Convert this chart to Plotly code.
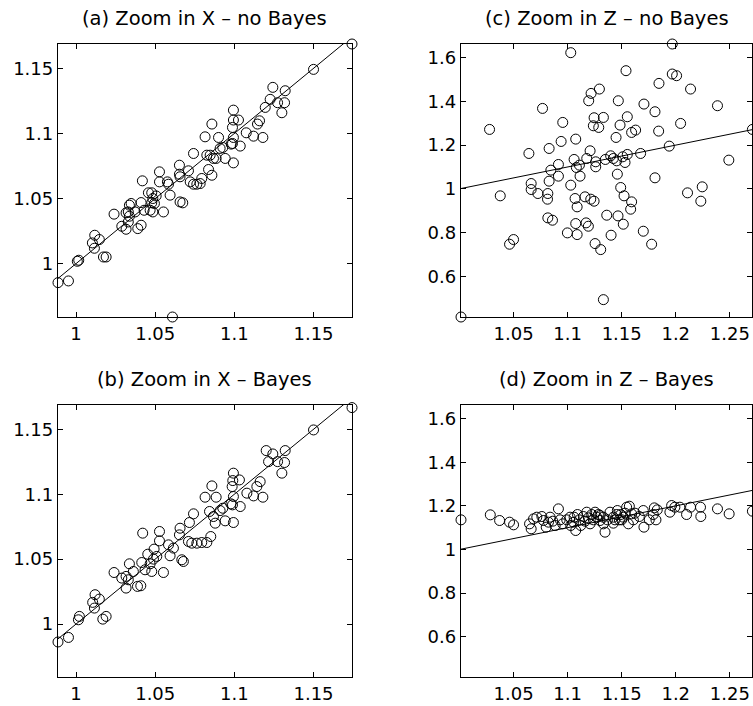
import plotly.graph_objects as go

# ---------------- data ----------------
# (a) Zoom in X - no Bayes
ax_x = [0.9886, 0.9952, 1.0017, 1.0008, 1.0118, 1.0103, 1.0116, 1.0147, 1.0173, 1.0190,
        1.0240, 1.0289, 1.0316, 1.0316, 1.0337, 1.0337, 1.0330, 1.0348, 1.0373, 1.0390,
        1.0411, 1.0419, 1.0411, 1.0430, 1.0457, 1.0468, 1.0485, 1.0485, 1.0495, 1.0478,
        1.0506, 1.0527, 1.0527, 1.0552, 1.0584, 1.0594, 1.0577, 1.0653, 1.0653, 1.0657,
        1.0674, 1.0657, 1.0710, 1.0742, 1.0721, 1.0742, 1.0763, 1.0794, 1.0815, 1.0826,
        1.0847, 1.0858, 1.0858, 1.0837, 1.0868, 1.0885, 1.0900, 1.0910, 1.0927, 1.0942,
        1.0994, 1.0994, 1.0988, 1.0994, 1.0980, 1.0988, 1.0994, 1.1026, 1.1037, 1.1075,
        1.1121, 1.1146, 1.1159, 1.1180, 1.1195, 1.1226, 1.1243, 1.1273, 1.1300, 1.1321,
        1.1317, 1.1500, 1.1743, 1.0609, 1.0478, 1.0784, 1.0330]
ay_x = [0.9854, 0.9867, 1.0026, 1.0018, 1.0218, 1.0159, 1.0118, 1.0185, 1.0051, 1.0051,
        1.0380, 1.0287, 1.0264, 1.0390, 1.0449, 1.0364, 1.0320, 1.0462, 1.0397, 1.0269,
        1.0295, 1.0636, 1.0469, 1.0410, 1.0544, 1.0410, 1.0397, 1.0500, 1.0462, 1.0467,
        1.0520, 1.0705, 1.0628, 1.0397, 1.0610, 1.0526, 1.0628, 1.0756, 1.0687, 1.0667,
        1.0467, 1.0474, 1.0713, 1.0846, 1.0628, 1.0610, 1.0610, 1.0654, 1.0974, 1.0833,
        1.0833, 1.1072, 1.0679, 1.0723, 1.0808, 1.0808, 1.0969, 1.0885, 1.0892, 1.0808,
        1.1179, 1.1103, 1.1046, 1.0774, 1.0918, 1.0923, 1.0969, 1.1103, 1.0903, 1.1005,
        1.0979, 1.1072, 1.1097, 1.0969, 1.1200, 1.1262, 1.1354, 1.1236, 1.1159, 1.1328,
        1.1236, 1.1492, 1.1687, 0.9590, 1.0544, 1.0615, 1.0397]

# (b) Zoom in X - Bayes
bx_x = [0.9886, 0.9952, 1.0015, 1.0021, 1.0120, 1.0105, 1.0116, 1.0147, 1.0169, 1.0190,
        1.0240, 1.0289, 1.0316, 1.0316, 1.0337, 1.0330, 1.0362, 1.0388, 1.0409, 1.0421,
        1.0415, 1.0436, 1.0453, 1.0468, 1.0478, 1.0489, 1.0493, 1.0510, 1.0527, 1.0527,
        1.0552, 1.0584, 1.0594, 1.0615, 1.0657, 1.0653, 1.0668, 1.0678, 1.0716, 1.0742,
        1.0710, 1.0731, 1.0763, 1.0794, 1.0826, 1.0815, 1.0858, 1.0843, 1.0851, 1.0868,
        1.0879, 1.0885, 1.0910, 1.0927, 1.0942, 1.0994, 1.0990, 1.0986, 1.0994, 1.0978,
        1.0988, 1.0994, 1.1032, 1.1037, 1.1079, 1.1121, 1.1142, 1.1163, 1.1180, 1.1201,
        1.1216, 1.1243, 1.1273, 1.1300, 1.1321, 1.1317, 1.1500, 1.1743]
by_x = [0.9862, 0.9897, 1.0033, 1.0059, 1.0226, 1.0167, 1.0123, 1.0192, 1.0038, 1.0059,
        1.0397, 1.0354, 1.0277, 1.0367, 1.0464, 1.0341, 1.0405, 1.0290, 1.0295, 1.0700,
        1.0474, 1.0418, 1.0538, 1.0464, 1.0405, 1.0500, 1.0577, 1.0521, 1.0713, 1.0641,
        1.0397, 1.0610, 1.0526, 1.0585, 1.0738, 1.0687, 1.0495, 1.0482, 1.0782, 1.0849,
        1.0636, 1.0623, 1.0623, 1.0628, 1.0628, 1.0977, 1.1064, 1.0867, 1.0674, 1.0828,
        1.0777, 1.0977, 1.0874, 1.0892, 1.0795, 1.1162, 1.1105, 1.1059, 1.0782, 1.0926,
        1.0918, 1.0982, 1.1110, 1.0905, 1.1008, 1.0987, 1.1059, 1.1097, 1.0977, 1.1336,
        1.1251, 1.1310, 1.1251, 1.1162, 1.1336, 1.1244, 1.1495, 1.1667]

# (c) Zoom in Z - no Bayes
cx_z = [1.0014, 1.0278, 1.0377, 1.0463, 1.0500, 1.0642, 1.0663, 1.0663, 1.0725, 1.0768,
        1.0817, 1.0814, 1.0829, 1.0829, 1.0845, 1.0817, 1.0860, 1.0915, 1.0915, 1.0955,
        1.0940, 1.0998, 1.1029, 1.1029, 1.1075, 1.1060, 1.1069, 1.1088, 1.1075, 1.1088,
        1.1081, 1.1109, 1.1115, 1.1161, 1.1171, 1.1192, 1.1195, 1.1217, 1.1208, 1.1177,
        1.1214, 1.1245, 1.1254, 1.1245, 1.1238, 1.1294, 1.1288, 1.1260, 1.1260, 1.1306,
        1.1331, 1.1331, 1.1349, 1.1362, 1.1398, 1.1402, 1.1448, 1.1460, 1.1469, 1.1466,
        1.1454, 1.1485, 1.1491, 1.1510, 1.1522, 1.1515, 1.1531, 1.1540, 1.1552, 1.1552,
        1.1592, 1.1583, 1.1592, 1.1629, 1.1675, 1.1700, 1.1706, 1.1777, 1.1808, 1.1808,
        1.1845, 1.1842, 1.1940, 1.1968, 1.1968, 1.2008, 1.2045, 1.2109, 1.2137, 1.2245,
        1.2232, 1.2386, 1.2491, 1.2709, 1.1423]
cy_z = [0.4137, 1.2718, 0.9680, 0.7466, 0.7680, 1.1618, 1.0244, 0.9969, 0.9786, 1.3679,
        0.9786, 0.9527, 1.1847, 1.0351, 1.0855, 0.8672, 0.8565, 1.0580, 1.1115, 1.3038,
        1.2168, 0.7985, 1.6229, 1.0168, 1.2275, 1.1344, 0.9557, 0.9176, 0.8412, 0.7908,
        1.0977, 1.1084, 1.0580, 0.9634, 0.8443, 0.8290, 1.4030, 1.4366, 1.1740, 1.1389,
        0.9527, 0.9435, 0.7496, 1.3252, 1.2885, 1.4565, 1.2809, 1.1237, 1.1008, 0.7221,
        0.4931, 1.3267, 1.1344, 0.8794, 1.1511, 0.7878, 1.2351, 1.0672, 1.4030, 0.8763,
        1.1282, 1.2916, 1.0061, 1.1466, 0.9680, 0.8382, 1.1206, 1.5405, 1.3298, 1.1573,
        0.9405, 0.9069, 1.2580, 1.2687, 1.1618, 0.8061, 1.3878, 0.7466, 1.3527, 1.0504,
        1.4824, 1.2641, 1.1954, 1.6626, 1.5252, 1.5176, 1.2992, 0.9817, 1.4565, 1.0092,
        0.9435, 1.3802, 1.1313, 1.2718, 1.1389]

# (d) Zoom in Z - Bayes
dx_z = [1.0014, 1.0285, 1.0371, 1.0463, 1.0500, 1.0648, 1.0663, 1.0685, 1.0715, 1.0762,
        1.0777, 1.0802, 1.0823, 1.0838, 1.0863, 1.0885, 1.0915, 1.0931, 1.0955, 1.0992,
        1.1023, 1.1029, 1.1054, 1.1075, 1.1091, 1.1109, 1.1122, 1.1146, 1.1162, 1.1177,
        1.1192, 1.1208, 1.1223, 1.1238, 1.1254, 1.1269, 1.1285, 1.1300, 1.1331, 1.1346,
        1.1368, 1.1392, 1.1423, 1.1454, 1.1460, 1.1478, 1.1491, 1.1515, 1.1531, 1.1546,
        1.1562, 1.1571, 1.1608, 1.1623, 1.1663, 1.1700, 1.1706, 1.1755, 1.1802, 1.1792,
        1.1817, 1.1829, 1.1946, 1.1962, 1.1992, 1.2038, 1.2100, 1.2137, 1.2229, 1.2232,
        1.2386, 1.2494, 1.2709, 1.1060, 1.1300, 1.1331, 1.1438, 1.1500, 1.1592, 1.1423]
dy_z = [1.1359, 1.1588, 1.1328, 1.1252, 1.1130, 1.1176, 1.0947, 1.1405, 1.1481, 1.1511,
        1.1328, 1.1023, 1.1252, 1.1481, 1.1298, 1.1099, 1.1863, 1.1359, 1.1176, 1.1359,
        1.1481, 1.1099, 1.1252, 1.0870, 1.1603, 1.1359, 1.1099, 1.1511, 1.1298, 1.1710,
        1.1450, 1.1176, 1.1603, 1.1359, 1.1710, 1.1481, 1.1603, 1.1328, 1.1176, 1.0794,
        1.1359, 1.1710, 1.1481, 1.1603, 1.1786, 1.1359, 1.1603, 1.1481, 1.1664, 1.1939,
        1.1176, 1.1985, 1.1359, 1.1664, 1.1511, 1.1786, 1.1023, 1.1359, 1.1908, 1.1603,
        1.1359, 1.1817, 1.1710, 1.2015, 1.1939, 1.1939, 1.1603, 1.1939, 1.1939, 1.1511,
        1.1863, 1.1634, 1.1756, 1.1481, 1.1557, 1.1481, 1.1359, 1.1359, 1.1634, 1.1206]

titles = ["(a) Zoom in X \u2013 no Bayes", "(b) Zoom in X \u2013 Bayes",
          "(c) Zoom in Z \u2013 no Bayes", "(d) Zoom in Z \u2013 Bayes"]

x_range_X = [0.9886, 1.1743]
y_range_X = [0.9590, 1.1687]
x_range_Z = [1.0014, 1.2709]
y_range_Z = [0.4137, 1.6626]

ticks_X_x = [1, 1.05, 1.1, 1.15]
ticks_X_y = [1, 1.05, 1.1, 1.15]
labels_X = ["1", "1.05", "1.1", "1.15"]
ticks_Z_x = [1.05, 1.1, 1.15, 1.2, 1.25]
labels_Z_x = ["1.05", "1.1", "1.15", "1.2", "1.25"]
ticks_Z_y = [0.6, 0.8, 1.0, 1.2, 1.4, 1.6]
labels_Z_y = ["0.6", "0.8", "1", "1.2", "1.4", "1.6"]

# ---------------- layout geometry ----------------
W, H = 753, 706
left_dom = [58 / W, 352 / W]
right_dom = [461 / W, 752.4 / W]
top_dom = [1 - 317 / H, 1 - 44 / H]
bot_dom = [1 - 677.3 / H, 1 - 405 / H]

FONT = "DejaVu Sans"
TICK_SIZE = 18
TITLE_SIZE = 19.5

panels = [
    (ax_x, ay_x, left_dom, top_dom, x_range_X, y_range_X, ticks_X_x, labels_X, ticks_X_y, labels_X, titles[0]),
    (bx_x, by_x, left_dom, bot_dom, x_range_X, y_range_X, ticks_X_x, labels_X, ticks_X_y, labels_X, titles[1]),
    (cx_z, cy_z, right_dom, top_dom, x_range_Z, y_range_Z, ticks_Z_x, labels_Z_x, ticks_Z_y, labels_Z_y, titles[2]),
    (dx_z, dy_z, right_dom, bot_dom, x_range_Z, y_range_Z, ticks_Z_x, labels_Z_x, ticks_Z_y, labels_Z_y, titles[3]),
]

fig = go.Figure()
layout = dict(
    width=W, height=H, margin=dict(l=0, r=0, t=0, b=0),
    paper_bgcolor="white", plot_bgcolor="white", showlegend=False,
    font=dict(family=FONT, size=TICK_SIZE, color="black"),
)
annotations = []
for i, (xs, ys, xdom, ydom, xr, yr, xt, xl, yt, yl, title) in enumerate(panels):
    n = "" if i == 0 else str(i + 1)
    xa, ya = "x" + n, "y" + n
    lo, hi = min(xs), max(xs)
    fig.add_trace(go.Scatter(x=[lo, hi], y=[lo, hi], mode="lines",
                             line=dict(color="black", width=1),
                             xaxis=xa, yaxis=ya, hoverinfo="skip", cliponaxis=False))
    fig.add_trace(go.Scatter(x=xs, y=ys, mode="markers",
                             marker=dict(symbol="circle-open", size=10, color="black",
                                         line=dict(width=1, color="black")),
                             xaxis=xa, yaxis=ya, cliponaxis=False))
    common = dict(showline=True, linecolor="black", linewidth=1.3, mirror="ticks",
                  ticks="inside", ticklen=5, tickwidth=1, tickcolor="black",
                  showgrid=False, zeroline=False,
                  tickfont=dict(family=FONT, size=TICK_SIZE))
    layout["xaxis" + n] = dict(domain=xdom, range=xr, anchor=ya, tickmode="array",
                               tickvals=xt, ticktext=xl, **common)
    layout["yaxis" + n] = dict(domain=ydom, range=yr, anchor=xa, tickmode="array",
                               tickvals=yt, ticktext=yl, **common)
    annotations.append(dict(text=title, x=(xdom[0] + xdom[1]) / 2, xref="paper",
                            y=ydom[1], yref="paper", yshift=12, yanchor="bottom",
                            xanchor="center", showarrow=False,
                            font=dict(family=FONT, size=TITLE_SIZE, color="black")))
layout["annotations"] = annotations
fig.update_layout(**layout)
fig.write_html("out.html", config={"displayModeBar": False})

# remove the browser's default page margin so the figure sits at the window origin
with open("out.html", "r", encoding="utf-8") as f:
    html = f.read()
html = html.replace("<head>", "<head><style>html,body{margin:0;padding:0;overflow:hidden;}</style>", 1)
with open("out.html", "w", encoding="utf-8") as f:
    f.write(html)
